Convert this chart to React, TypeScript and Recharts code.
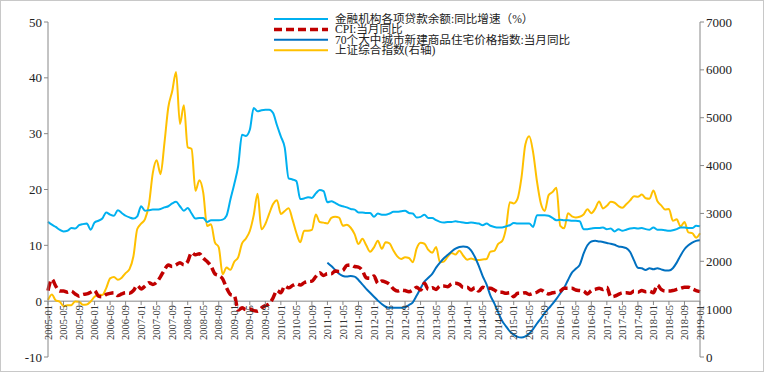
import React from 'react';
import { LineChart, Line, XAxis, YAxis, ReferenceLine } from 'recharts';

// 月度数据 2005-01 ~ 2019-01
const startYear = 2005;
const monthCount = 169;

const months: string[] = [];
for (let i = 0; i < monthCount; i++) {
  const y = startYear + Math.floor(i / 12);
  const m = (i % 12) + 1;
  months.push(`${y}-${m < 10 ? '0' + m : m}`);
}

// 金融机构各项贷款余额:同比增速(%)
const loanGrowth = [
  14.2, 13.7, 13.3, 12.8, 12.5, 12.6, 13.1, 13.0, 13.6, 13.8, 13.9, 12.8,
  14.1, 14.4, 14.8, 15.9, 15.5, 15.3, 16.3, 15.8, 15.3, 15.0, 14.8, 15.2,
  17.0, 16.2, 16.3, 16.4, 16.4, 16.5, 16.8, 17.0, 17.5, 17.8, 17.0, 16.2,
  16.7, 15.7, 14.8, 14.9, 14.9, 14.2, 14.5, 14.5, 14.5, 14.6, 15.3, 18.2,
  21.0, 24.2, 29.8, 29.6, 30.7, 34.6, 34.0, 34.2, 34.3, 34.3, 33.7, 31.5,
  29.5, 27.5, 22.0, 21.8, 21.5, 18.3, 18.4, 18.6, 18.5, 19.3, 19.9, 19.7,
  17.7, 17.9, 17.6, 17.2, 17.0, 16.8, 16.5, 16.4, 15.9, 15.9, 15.8, 15.8,
  15.1, 15.7, 15.5, 15.5, 15.7, 16.0, 16.0, 16.1, 16.2, 15.8, 15.7, 15.0,
  15.1, 15.5, 14.9, 14.9, 14.5, 14.2, 14.1, 14.2, 14.2, 14.3, 14.2, 14.1,
  14.0, 14.1, 14.0, 13.9, 13.6, 13.9, 13.5, 13.3, 13.2, 13.2, 13.4, 13.6,
  14.0, 13.9, 13.9, 13.9, 13.9, 13.3, 15.4, 15.4, 15.4, 15.3, 14.9, 14.5,
  14.6, 14.5, 14.5, 14.4, 14.4, 14.3, 12.9, 12.9, 13.0, 13.1, 13.1, 13.2,
  12.9, 13.0, 12.5, 12.9, 12.6, 12.8, 13.0, 13.1, 13.0, 13.1, 12.9, 12.8,
  13.2, 12.8, 12.8, 12.7, 12.6, 12.7, 12.9, 13.2, 13.2, 13.1, 13.1, 13.5,
  13.4,
];

// CPI:当月同比
const cpi = [
  1.9, 3.9, 2.7, 1.8, 1.8, 1.6, 1.8, 1.3, 0.9, 1.2, 1.3, 1.6,
  1.9, 0.9, 0.8, 1.2, 1.4, 1.5, 1.0, 1.3, 1.5, 1.4, 1.9, 2.8,
  2.2, 2.7, 3.3, 3.0, 3.4, 4.4, 5.6, 6.5, 6.2, 6.5, 6.9, 6.5,
  7.1, 8.7, 8.3, 8.5, 7.7, 7.1, 6.3, 4.9, 4.6, 4.0, 2.4, 1.2,
  1.0, -1.6, -1.2, -1.5, -1.4, -1.7, -1.8, -1.2, -0.8, -0.5, 0.6, 1.9,
  1.5, 2.7, 2.4, 2.8, 3.1, 2.9, 3.3, 3.5, 3.6, 4.4, 5.1, 4.6,
  4.9, 4.9, 5.4, 5.3, 5.5, 6.4, 6.5, 6.2, 6.1, 5.5, 4.2, 4.1,
  4.5, 3.2, 3.6, 3.4, 3.0, 2.2, 1.8, 2.0, 1.9, 1.7, 2.0, 2.5,
  2.0, 3.2, 2.1, 2.4, 2.1, 2.7, 2.7, 2.6, 3.1, 3.2, 3.0, 2.5,
  2.5, 2.0, 2.4, 1.8, 2.5, 2.3, 2.3, 2.0, 1.6, 1.6, 1.4, 1.5,
  0.8, 1.4, 1.4, 1.5, 1.2, 1.4, 1.6, 2.0, 1.6, 1.3, 1.5, 1.6,
  1.8, 2.3, 2.3, 2.3, 2.0, 1.9, 1.8, 1.3, 1.9, 2.1, 2.3, 2.1,
  2.5, 0.8, 0.9, 1.2, 1.5, 1.5, 1.4, 1.8, 1.6, 1.9, 1.7, 1.8,
  1.5, 2.9, 2.1, 1.8, 1.8, 1.9, 2.1, 2.3, 2.5, 2.5, 2.2, 1.9,
  1.7,
];

// 70个大中城市新建商品住宅价格指数:当月同比 (从2011-01开始)
const housingStart = 72;
const housing = [
  6.9, 6.3, 5.6, 4.9, 4.5, 4.4, 4.5, 4.4, 3.8, 3.0, 2.2, 1.5,
  0.8, 0.1, -0.5, -1.0, -1.2, -1.2, -1.2, -1.2, -1.1, -0.7, -0.2, 1.0,
  2.3, 3.5, 4.2, 4.9, 6.0, 6.9, 7.7, 8.3, 8.9, 9.4, 9.7, 9.8,
  9.7, 9.1, 7.9, 6.3, 4.5, 3.0, 1.0, -0.4, -2.0, -3.5, -4.5, -5.4,
  -6.0, -6.4, -6.5, -6.3, -5.8, -5.0, -4.0, -3.1, -2.1, -1.3, -0.5, 0.4,
  1.4, 2.4, 3.8, 5.1, 5.8, 6.5, 8.5, 10.0, 10.7, 10.8, 10.7, 10.6,
  10.4, 10.3, 10.1, 9.8, 9.7, 9.5, 8.8, 7.3, 6.0, 5.9, 5.6, 5.9,
  5.7, 5.9, 5.7, 5.5, 5.5, 5.9, 6.9, 8.2, 9.3, 10.0, 10.5, 10.8,
  10.9,
];

// 上证综合指数(右轴)
const sse = [
  1191, 1306, 1181, 1159, 1060, 1080, 1083, 1162, 1155, 1092, 1099, 1161,
  1258, 1299, 1298, 1440, 1642, 1672, 1612, 1658, 1753, 1837, 2099, 2675,
  2786, 2881, 3183, 3841, 4109, 3821, 4471, 5219, 5552, 5954, 4871, 5262,
  4383, 4348, 3473, 3693, 3433, 2736, 2775, 2397, 2293, 1729, 1871, 1821,
  1991, 2082, 2373, 2477, 2632, 2959, 3412, 2667, 2779, 2995, 3195, 3277,
  2989, 3051, 3110, 2870, 2592, 2398, 2638, 2639, 2656, 2979, 2820, 2808,
  2791, 2906, 2928, 2911, 2743, 2762, 2701, 2567, 2359, 2469, 2333, 2199,
  2292, 2429, 2262, 2397, 2373, 2225, 2103, 2047, 2086, 2069, 1980, 2269,
  2385, 2366, 2237, 2178, 2301, 1979, 1994, 2098, 2175, 2141, 2220, 2116,
  2033, 2056, 2033, 2026, 2039, 2048, 2202, 2217, 2364, 2420, 2683, 3235,
  3210, 3310, 3748, 4442, 4612, 4277, 3664, 3206, 3053, 3383, 3446, 3539,
  2738, 2688, 3004, 2938, 2917, 2930, 2979, 3085, 3005, 3100, 3250, 3104,
  3159, 3242, 3223, 3155, 3117, 3192, 3273, 3361, 3349, 3393, 3317, 3307,
  3481, 3259, 3169, 3082, 3095, 2847, 2876, 2725, 2821, 2603, 2588, 2494,
  2585,
];

const leftTicks = [-10, 0, 10, 20, 30, 40, 50];
const rightTicks = [0, 1000, 2000, 3000, 4000, 5000, 6000, 7000];

const legendItems = [
  { name: '金融机构各项贷款余额:同比增速（%）', color: '#00b0f0', dash: false, width: 2 },
  { name: 'CPI:当月同比', color: '#c00000', dash: true, width: 3.5 },
  { name: '70个大中城市新建商品住宅价格指数:当月同比', color: '#0070c0', dash: false, width: 2 },
  { name: '上证综合指数(右轴)', color: '#ffc000', dash: false, width: 2 },
];

const data = months.map((name, i) => ({
  name,
  loan: loanGrowth[i],
  cpi: cpi[i],
  housing: i >= housingStart ? housing[i - housingStart] : null,
  sse: sse[i],
}));

const W = 764;
const H = 372;
const M = { top: 22, right: 0, left: 0, bottom: 14 };
const PLOT_H = H - M.top - M.bottom;
// x轴放在左轴0的位置
const ZERO_SHIFT = (PLOT_H * (0 - leftTicks[0])) / (leftTicks[leftTicks.length - 1] - leftTicks[0]);

const serif = 'Liberation Serif';
const cjk = 'Liberation Serif, Noto Sans CJK SC';

const XTick = (props: any) => {
  const { x, y, payload } = props;
  const top = y - ZERO_SHIFT;
  return (
    <g transform={`translate(${x},${top})`}>
      <line x1={0} y1={0} x2={0} y2={4} stroke="#888" />
      <text
        transform="rotate(-90)"
        x={-4}
        y={0}
        dy="0.35em"
        textAnchor="end"
        fontSize={10.5}
        style={{ fontFamily: serif }}
        fill="#333"
      >
        {payload.value}
      </text>
    </g>
  );
};

const LegendBox = () => (
  <svg width={380} height={52} style={{ position: 'absolute', left: 274, top: 13, fontFamily: cjk }}>
    {legendItems.map((it, i) => {
      const cy = 6 + i * 10.4;
      return (
        <g key={it.name}>
          <line
            x1={0}
            x2={54}
            y1={cy}
            y2={cy}
            stroke={it.color}
            strokeWidth={it.width}
            strokeDasharray={it.dash ? '8 4' : undefined}
          />
          <text x={61} y={cy} dy="0.35em" fontSize={11.6} fill="#222">
            {it.name}
          </text>
        </g>
      );
    })}
  </svg>
);

const tickStyle = { fontSize: 13, fill: '#222', style: { fontFamily: serif } };

export default function App() {
  return (
    <div
      style={{
        position: 'absolute',
        left: 0,
        top: 0,
        width: W,
        height: H,
        background: '#fff',
        fontFamily: serif,
      }}
    >
      <LineChart width={W} height={H} data={data} margin={M} style={{ fontFamily: serif }}>
        <XAxis
          dataKey="name"
          interval={3}
          axisLine={false}
          tickLine={false}
          tickSize={0}
          tickMargin={0}
          height={1}
          tick={<XTick />}
        />
        <YAxis
          yAxisId="left"
          domain={[-10, 50]}
          ticks={leftTicks}
          width={48}
          stroke="#888"
          tickSize={4}
          tick={tickStyle}
          interval={0}
        />
        <YAxis
          yAxisId="right"
          orientation="right"
          domain={[0, 7000]}
          ticks={rightTicks}
          width={64}
          stroke="#888"
          tickSize={4}
          tick={tickStyle}
          interval={0}
        />
        <ReferenceLine yAxisId="left" y={0} stroke="#888" />
        <Line
          yAxisId="right"
          type="monotone"
          dataKey="sse"
          stroke="#ffc000"
          strokeWidth={2}
          dot={false}
          isAnimationActive={false}
        />
        <Line
          yAxisId="left"
          type="monotone"
          dataKey="loan"
          stroke="#00b0f0"
          strokeWidth={2}
          dot={false}
          isAnimationActive={false}
        />
        <Line
          yAxisId="left"
          type="monotone"
          dataKey="housing"
          stroke="#0070c0"
          strokeWidth={2}
          dot={false}
          connectNulls={false}
          isAnimationActive={false}
        />
        <Line
          yAxisId="left"
          type="monotone"
          dataKey="cpi"
          stroke="#c00000"
          strokeWidth={3.5}
          strokeDasharray="9 4"
          dot={false}
          isAnimationActive={false}
        />
      </LineChart>
      <LegendBox />
      <div
        style={{
          position: 'absolute',
          left: 0,
          top: 0,
          width: W,
          height: H,
          boxSizing: 'border-box',
          border: '1px solid #c8c8c8',
          pointerEvents: 'none',
        }}
      />
    </div>
  );
}
